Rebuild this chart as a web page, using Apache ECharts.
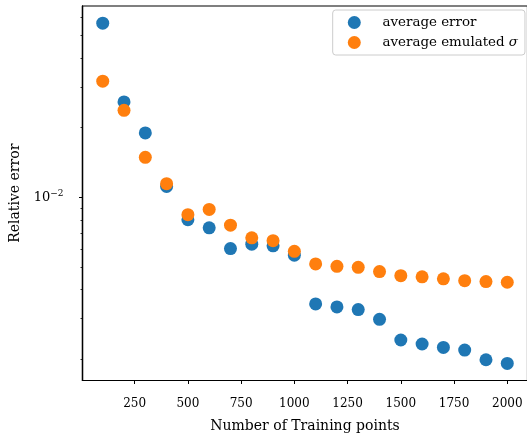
<!DOCTYPE html>
<html>
<head>
<meta charset="utf-8">
<script src="https://cdn.jsdelivr.net/npm/echarts@6/dist/echarts.min.js"></script>
<style>
html, body { margin: 0; padding: 0; background: #fff; }
#chart { width: 527px; height: 434px; }
</style>
</head>
<body>
<div id="chart"></div>
<script>
// Training-set sizes and the two error measures for each size
const trainingPoints = [100, 200, 300, 400, 500, 600, 700, 800, 900, 1000,
  1100, 1200, 1300, 1400, 1500, 1600, 1700, 1800, 1900, 2000];
const averageError = [0.0566, 0.02586, 0.01899, 0.01116, 0.00801, 0.00739, 0.00601, 0.00628, 0.00618, 0.00563,
  0.003465, 0.003363, 0.003275, 0.002973, 0.002421, 0.002326, 0.002248, 0.002191, 0.001989, 0.001917];
const averageSigma = [0.0318, 0.02379, 0.0149, 0.01146, 0.00842, 0.00887, 0.00759, 0.00669, 0.0065, 0.00585,
  0.00516, 0.00504, 0.00499, 0.00478, 0.00459, 0.00454, 0.00445, 0.00437, 0.00433, 0.0043];

// Axis ticks
const xTicks = [250, 500, 750, 1000, 1250, 1500, 1750, 2000];
const yMajorTicks = [0.01];
const yMinorTicks = [0.002, 0.003, 0.004, 0.005, 0.006, 0.007, 0.008, 0.009,
  0.02, 0.03, 0.04, 0.05, 0.06];

const seriesNames = ['average error', 'average emulated σ'];

const FONT = 'DejaVu Serif';
const X_MIN = 5, X_MAX = 2095;
const Y_MIN = Math.pow(10, -2.791), Y_MAX = Math.pow(10, -1.173);

const toPairs = ys => trainingPoints.map((x, i) => [x, ys[i]]);

const chart = echarts.init(document.getElementById('chart'), null, { renderer: 'canvas' });

const yBase = {
  type: 'log',
  logBase: 10,
  min: Y_MIN,
  max: Y_MAX,
  position: 'left',
  splitLine: { show: false },
  axisLine: { show: true, lineStyle: { color: '#000', width: 1.2 } }
};

chart.setOption({
  animation: false,
  backgroundColor: '#fff',
  grid: {
    left: 82.5, top: 6, right: -0.5, bottom: 53.5,
    containLabel: false,
    outerBoundsMode: 'none',
    show: true, borderColor: '#000', borderWidth: 1.2, backgroundColor: 'transparent'
  },
  legend: {
    orient: 'vertical',
    left: 332.7,
    top: 10,
    padding: [6, 7, 6, 15.1],
    itemGap: 7,
    itemWidth: 29.5,
    itemHeight: 13,
    icon: 'circle',
    backgroundColor: 'rgba(255,255,255,0.8)',
    borderColor: '#cccccc',
    borderWidth: 1,
    borderRadius: 3,
    data: seriesNames,
    // two leading spaces keep the text clear of the marker
    formatter: name => name.endsWith('σ')
      ? '{n|  ' + name.slice(0, -1) + '}{i|σ}'
      : '{n|  ' + name + '}',
    textStyle: {
      fontFamily: FONT,
      fontSize: 13.4,
      color: '#000',
      rich: {
        n: { fontFamily: FONT, fontSize: 13.4, color: '#000' },
        i: { fontFamily: FONT, fontSize: 13.4, fontStyle: 'italic', color: '#000' }
      }
    }
  },
  xAxis: {
    type: 'value',
    min: X_MIN,
    max: X_MAX,
    name: 'Number of Training points',
    nameLocation: 'middle',
    nameGap: 39,
    nameTextStyle: { fontFamily: FONT, fontSize: 14, color: '#000' },
    splitLine: { show: false },
    axisLine: { show: true, lineStyle: { color: '#000', width: 1.2 } },
    axisTick: { show: true, length: 3.5, inside: false, customValues: xTicks, lineStyle: { color: '#000' } },
    axisLabel: {
      customValues: xTicks,
      margin: 17,
      formatter: v => String(v),
      fontFamily: FONT, fontSize: 12, color: '#000'
    }
  },
  yAxis: [
    Object.assign({}, yBase, {
      axisTick: { show: true, length: 2, customValues: yMinorTicks, lineStyle: { color: '#000', width: 0.8 } },
      axisLabel: { show: false }
    }),
    Object.assign({}, yBase, {
      name: 'Relative error',
      nameLocation: 'middle',
      nameGap: 58,
      nameTextStyle: { fontFamily: FONT, fontSize: 14, color: '#000' },
      axisTick: { show: true, length: 3.5, customValues: yMajorTicks, lineStyle: { color: '#000' } },
      axisLabel: {
        customValues: yMajorTicks,
        margin: 19,
        formatter: v => '{b|10}{s|' + String(Math.round(Math.log10(v))).replace('-', '−') + '}',
        rich: {
          b: { fontFamily: FONT, fontSize: 13, color: '#000', lineHeight: 16 },
          s: { fontFamily: FONT, fontSize: 9, color: '#000', verticalAlign: 'top', lineHeight: 10 }
        }
      }
    })
  ],
  series: [
    {
      name: seriesNames[0],
      type: 'scatter',
      yAxisIndex: 0,
      data: toPairs(averageError),
      symbol: 'circle',
      symbolSize: 13,
      itemStyle: { color: '#1f77b4', opacity: 1 },
      z: 2
    },
    {
      name: seriesNames[1],
      type: 'scatter',
      yAxisIndex: 0,
      data: toPairs(averageSigma),
      symbol: 'circle',
      symbolSize: 13,
      itemStyle: { color: '#ff7f0e', opacity: 1 },
      z: 3
    }
  ]
});
</script>
</body>
</html>
